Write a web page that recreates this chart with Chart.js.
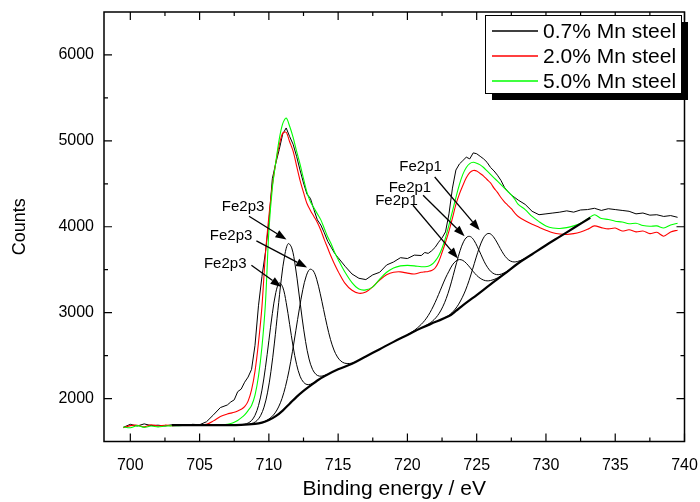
<!DOCTYPE html>
<html><head><meta charset="utf-8">
<script src="https://cdn.jsdelivr.net/npm/chart.js@4.4.0/dist/chart.umd.min.js"></script>
<style>html,body{margin:0;padding:0;background:#fff;}#wrap{width:700px;height:502px;}</style>
</head><body><div id="wrap"><canvas id="c" width="700" height="502"></canvas></div>
<script>
const energies = [699.5,700,700.5,701,701.5,702,702.5,703,703.5,704,704.5,705,705.5,706,706.5,707,
707.25,707.5,707.75,708,708.25,708.5,708.75,709,709.25,709.5,709.75,710,710.25,710.5,710.75,711,711.25,711.5,711.75,712,712.25,712.5,712.75,713,713.25,713.5,713.75,714,714.25,714.5,714.75,715,
715.5,716,716.5,717,717.5,718,718.5,719,719.5,720,720.5,721,
721.25,721.5,721.75,722,722.25,722.5,722.75,723,723.25,723.5,723.75,724,724.25,724.5,724.75,725,725.25,725.5,725.75,726,726.25,726.5,726.75,727,727.25,727.5,727.75,728,
728.5,729,729.5,730,730.5,731,731.5,732,732.5,733,733.5,734,734.5,735,735.5,736,736.5,737,737.5,738,738.5,739,739.5];
const counts07 = [1665,1700,1680,1705,1685,1690,1680,1695,1690,1688,1700,1695,1730,1810,1895,1925,
1960,1985,2080,2110,2190,2250,2340,2620,3080,3420,3700,4050,4560,4740,4900,5080,5150,5050,4960,4820,4660,4510,4380,4330,4200,4080,4020,3930,3830,3760,3690,3640,
3540,3450,3400,3385,3440,3470,3555,3590,3640,3630,3670,3665,
3700,3690,3720,3760,3820,3870,3940,4150,4450,4660,4730,4770,4810,4790,4860,4850,4820,4790,4750,4690,4650,4600,4540,4460,4410,4370,4340,4310,
4260,4180,4140,4150,4160,4170,4185,4170,4195,4200,4215,4190,4210,4200,4190,4180,4150,4160,4135,4140,4120,4130,4110];
const counts20 = [1660,1685,1690,1670,1695,1680,1690,1685,1688,1690,1690,1692,1700,1740,1790,1820,
1830,1840,1855,1875,1905,1970,2100,2320,2650,3070,3680,4120,4480,4750,4950,5090,5100,4990,4880,4710,4540,4400,4270,4190,4120,4050,3960,3850,3750,3650,3560,3480,
3340,3260,3225,3240,3300,3380,3440,3470,3475,3460,3450,3470,
3475,3480,3490,3520,3590,3700,3820,3950,4100,4260,4380,4480,4570,4630,4655,4650,4620,4590,4550,4510,4450,4400,4340,4290,4250,4210,4160,4120,
4070,4030,3995,3960,3930,3915,3910,3920,3940,3970,4010,3990,3975,3985,3950,3965,3940,3950,3920,3935,3890,3940,3960];
const counts50 = [1670,1660,1685,1665,1680,1670,1680,1683,1685,1686,1688,1688,1690,1692,1695,1700,
1710,1725,1745,1775,1810,1860,1920,2040,2260,2600,3100,3950,4450,4750,5020,5200,5265,5170,5040,4880,4730,4560,4400,4290,4220,4150,4080,3980,3880,3800,3700,3620,
3470,3350,3275,3265,3300,3390,3470,3520,3545,3550,3545,3535,
3535,3540,3560,3600,3660,3750,3870,4020,4180,4340,4490,4610,4690,4735,4750,4740,4720,4690,4650,4610,4570,4530,4490,4450,4410,4370,4320,4260,
4200,4120,4060,4010,3985,3980,3990,4010,4040,4090,4140,4095,4085,4065,4055,4035,4040,4015,4005,4010,3985,4020,4040];
const bgEnergy = [703,705,707,708,709,709.5,710,710.5,711,711.5,712,712.5,713,713.5,714,715,716,717,718,719,720,721,722,723,723.5,724,724.5,725,726,727,728,729,730,731,732,733.2];
const bgCounts = [1690,1690,1690,1693,1705,1720,1750,1795,1860,1940,2020,2090,2150,2210,2260,2340,2405,2490,2575,2660,2740,2820,2890,2960,3020,3085,3145,3205,3330,3450,3575,3680,3785,3885,3985,4105];
const fe2p3aEnergy = [708,708.25,708.5,708.75,709,709.25,709.5,709.75,710,710.25,710.5,710.75,711,711.25,711.5,711.75,712,712.25,712.5,712.75,713,713.25];
const fe2p3aCounts = [1695,1701,1715,1744,1805,1917,2098,2358,2673,2988,3233,3346,3298,3118,2863,2605,2398,2260,2190,2163,2167,2186];
const fe2p3bEnergy = [708.65,708.9,709.15,709.4,709.65,709.9,710.15,710.4,710.65,710.9,711.15,711.4,711.65,711.9,712.15,712.4,712.65,712.9,713.15,713.4,713.65,713.9,714.15];
const fe2p3bCounts = [1705,1717,1745,1800,1900,2066,2317,2646,3025,3393,3674,3804,3754,3551,3252,2937,2663,2461,2340,2281,2261,2264,2277];
const fe2p3cEnergy = [709.7,709.95,710.2,710.45,710.7,710.95,711.2,711.45,711.7,711.95,712.2,712.45,712.7,712.95,713.2,713.45,713.7,713.95,714.2,714.45,714.7,714.95,715.2,715.45,715.7,715.95,716.2];
const fe2p3cCounts = [1734,1756,1787,1833,1902,2001,2141,2322,2545,2795,3044,3268,3428,3504,3488,3389,3226,3037,2849,2686,2565,2484,2436,2413,2408,2411,2424];
const fe2p1aEnergy = [720,720.25,720.5,720.75,721,721.25,721.5,721.75,722,722.25,722.5,722.75,723,723.25,723.5,723.75,724,724.25,724.5,724.75,725,725.25,725.5,725.75,726,726.25,726.5,726.75,727];
const fe2p1aCounts = [2744,2767,2794,2826,2864,2909,2966,3037,3119,3212,3309,3403,3483,3556,3600,3618,3608,3575,3529,3479,3434,3401,3379,3370,3374,3386,3404,3427,3454];
const fe2p1bEnergy = [721.3,721.55,721.8,722.05,722.3,722.55,722.8,723.05,723.3,723.55,723.8,724.05,724.3,724.55,724.8,725.05,725.3,725.55,725.8,726.05,726.3,726.55,726.8,727.05,727.3];
const fe2p1bCounts = [2846,2871,2900,2940,2994,3068,3164,3286,3431,3582,3721,3825,3881,3885,3843,3767,3680,3592,3523,3475,3449,3442,3450,3468,3492];
const fe2p1cEnergy = [722.7,722.95,723.2,723.45,723.7,723.95,724.2,724.45,724.7,724.95,725.2,725.45,725.7,725.95,726.2,726.45,726.7,726.95,727.2,727.45,727.7,727.95,728.2,728.45,728.7];
const fe2p1cCounts = [2941,2963,2997,3041,3099,3173,3263,3375,3503,3637,3761,3858,3913,3920,3885,3822,3748,3680,3629,3600,3590,3596,3609,3629,3651];
const xTicks = [700,705,710,715,720,725,730,735,740];
const xMinorTicks = [702.5,707.5,712.5,717.5,722.5,727.5,732.5,737.5];
const yTicks = [2000,3000,4000,5000,6000];
const yMinorTicks = [2500,3500,4500,5500];
const seriesLabels = ['0.7% Mn steel','2.0% Mn steel','5.0% Mn steel'];
const annotText = ['Fe2p3','Fe2p3','Fe2p3','Fe2p1','Fe2p1','Fe2p1'];
const annotTextE = [708.14,707.27,706.85,720.95,720.18,719.21];
const annotTextC = [4230,3890,3572,4695,4456,4300];
const arrowTailE = [708.57,709.1,708.74,721.97,721.13,720.4];
const arrowTailC = [4122,3835,3552,4579,4366,4250];
const arrowHeadE = [711.27,712.76,710.91,725.22,724.13,723.65];
const arrowHeadC = [3851,3526,3300,3959,3890,3630];

const FONT = "'Liberation Sans', Arial, Helvetica, sans-serif";
const pts = (xs, ys) => xs.map((x, i) => ({x: x, y: ys[i]}));
const fit = (xs, ys, w) => ({label: '', data: pts(xs, ys), borderColor: '#000', borderWidth: w, pointRadius: 0, tension: 0.35, order: 0, fill: false});

const decor = {
  id: 'decor',
  afterDraw(chart) {
    const ctx = chart.ctx, a = chart.chartArea, xs = chart.scales.x, ys = chart.scales.y;
    ctx.save();
    ctx.strokeStyle = '#000';
    ctx.lineWidth = 1.5;
    ctx.strokeRect(a.left, a.top, a.right - a.left, a.bottom - a.top);
    ctx.lineWidth = 1.2;
    ctx.beginPath();
    const xt = (v, L) => { const p = xs.getPixelForValue(v); ctx.moveTo(p, a.bottom); ctx.lineTo(p, a.bottom - L); ctx.moveTo(p, a.top); ctx.lineTo(p, a.top + L); };
    const yt = (v, L) => { const p = ys.getPixelForValue(v); ctx.moveTo(a.left, p); ctx.lineTo(a.left + L, p); ctx.moveTo(a.right, p); ctx.lineTo(a.right - L, p); };
    xTicks.forEach(v => xt(v, 8)); xMinorTicks.forEach(v => xt(v, 4));
    yTicks.forEach(v => yt(v, 8)); yMinorTicks.forEach(v => yt(v, 4));
    ctx.stroke();
    ctx.font = '15px ' + FONT;
    ctx.fillStyle = '#000';
    ctx.textAlign = 'center';
    ctx.textBaseline = 'middle';
    for (let i = 0; i < annotText.length; i++) {
      ctx.fillText(annotText[i], xs.getPixelForValue(annotTextE[i]), ys.getPixelForValue(annotTextC[i]));
      const x1 = xs.getPixelForValue(arrowTailE[i]), y1 = ys.getPixelForValue(arrowTailC[i]);
      const x2 = xs.getPixelForValue(arrowHeadE[i]), y2 = ys.getPixelForValue(arrowHeadC[i]);
      const ang = Math.atan2(y2 - y1, x2 - x1), hl = 11, hw = 4;
      const bx = x2 - hl * Math.cos(ang), by = y2 - hl * Math.sin(ang);
      ctx.lineWidth = 1.3;
      ctx.beginPath(); ctx.moveTo(x1, y1); ctx.lineTo(bx, by); ctx.stroke();
      ctx.beginPath();
      ctx.moveTo(x2, y2);
      ctx.lineTo(bx + hw * Math.sin(ang), by - hw * Math.cos(ang));
      ctx.lineTo(bx - hw * Math.sin(ang), by + hw * Math.cos(ang));
      ctx.closePath(); ctx.fill();
    }
    const lx = a.right - 199.5, ly = a.top + 3, lw = 196, lh = 78;
    ctx.fillStyle = '#000';
    ctx.fillRect(lx + 7, ly + 7, lw, lh);
    ctx.fillStyle = '#fff';
    ctx.fillRect(lx, ly, lw, lh);
    ctx.strokeStyle = '#000'; ctx.lineWidth = 1;
    ctx.strokeRect(lx + 0.5, ly + 0.5, lw, lh);
    ctx.font = '21px ' + FONT;
    ctx.textAlign = 'left';
    for (let i = 0; i < 3; i++) {
      const ds = chart.data.datasets[i];
      const yy = Math.round(ly + 16 + i * 25);
      ctx.strokeStyle = ds.borderColor; ctx.lineWidth = 1.4;
      ctx.beginPath(); ctx.moveTo(lx + 7, yy); ctx.lineTo(lx + 53, yy); ctx.stroke();
      ctx.fillStyle = '#000';
      ctx.fillText(ds.label, lx + 58, yy + 1);
    }
    ctx.restore();
  }
};

new Chart(document.getElementById('c'), {
  type: 'line',
  data: {
    datasets: [
      {label: seriesLabels[0], data: pts(energies, counts07), borderColor: '#000000', borderWidth: 1, pointRadius: 0, tension: 0, order: 3},
      {label: seriesLabels[1], data: pts(energies, counts20), borderColor: '#ff0000', borderWidth: 1.1, pointRadius: 0, tension: 0.3, order: 2},
      {label: seriesLabels[2], data: pts(energies, counts50), borderColor: '#00ff00', borderWidth: 1.1, pointRadius: 0, tension: 0.3, order: 1},
      fit(bgEnergy, bgCounts, 2.2),
      fit(fe2p3aEnergy, fe2p3aCounts, 1),
      fit(fe2p3bEnergy, fe2p3bCounts, 1),
      fit(fe2p3cEnergy, fe2p3cCounts, 1),
      fit(fe2p1aEnergy, fe2p1aCounts, 1),
      fit(fe2p1bEnergy, fe2p1bCounts, 1),
      fit(fe2p1cEnergy, fe2p1cCounts, 1)
    ]
  },
  options: {
    responsive: false,
    animation: false,
    layout: {padding: {top: 12, right: 15.5, left: 0, bottom: 0}},
    plugins: {legend: {display: false}, tooltip: {enabled: false}},
    scales: {
      x: {
        type: 'linear', min: 698.1, max: 740,
        afterBuildTicks: s => { s.ticks = xTicks.map(v => ({value: v})); },
        afterFit: s => { s.height = 60.5; s.paddingLeft = 0; s.paddingRight = 0; },
        grid: {display: false, drawTicks: false},
        border: {display: false},
        ticks: {color: '#000', padding: 14, maxRotation: 0, font: {family: FONT, size: 16}, callback: v => String(v)},
        title: {display: true, text: 'Binding energy / eV', color: '#000', font: {family: FONT, size: 21}, padding: {top: 0, bottom: 0}}
      },
      y: {
        type: 'linear', min: 1500, max: 6500,
        afterBuildTicks: s => { s.ticks = yTicks.map(v => ({value: v})); },
        afterFit: s => { s.width = 104; s.paddingTop = 0; s.paddingBottom = 0; },
        grid: {display: false, drawTicks: false},
        border: {display: false},
        ticks: {color: '#000', padding: 10, font: {family: FONT, size: 16}, callback: v => String(v)},
        title: {display: true, text: 'Counts', color: '#000', font: {family: FONT, size: 18}, padding: {top: 9, bottom: 0}}
      }
    }
  },
  plugins: [decor]
});
</script>
</body></html>
